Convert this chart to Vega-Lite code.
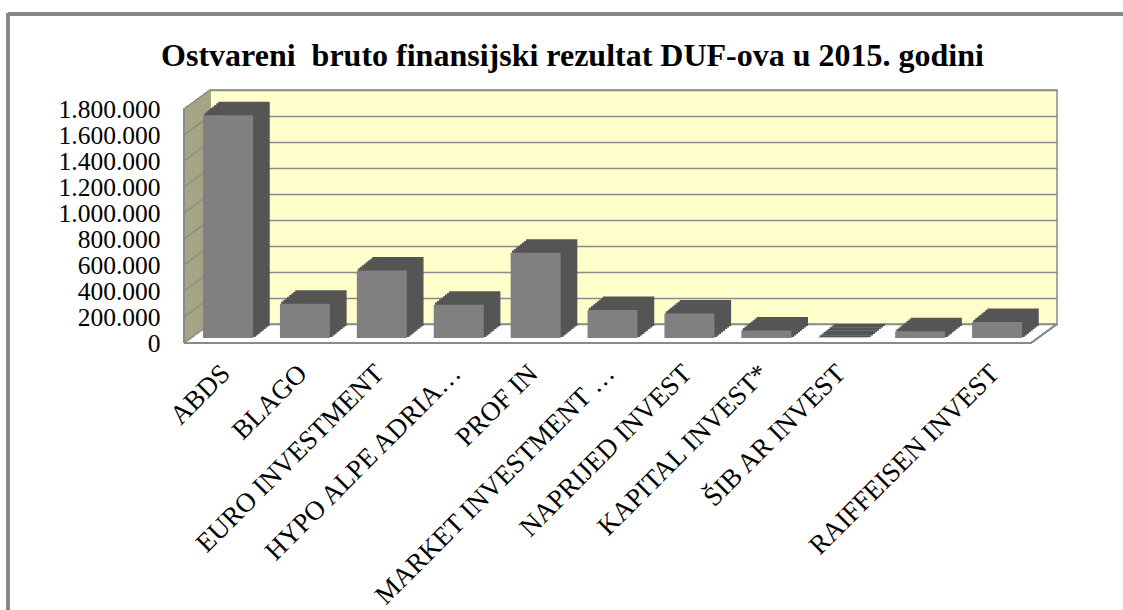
{
  "$schema": "https://vega.github.io/schema/vega-lite/v6.json",
  "autosize": {"type": "none"},
  "padding": {"left": 210, "top": 90, "right": 66, "bottom": 286},
  "width": 847,
  "height": 234,
  "background": "white",
  "title": {
    "text": "Ostvareni\u00a0 bruto finansijski rezultat DUF-ova u 2015. godini",
    "font": "Liberation Serif",
    "fontSize": 32,
    "fontWeight": "bold",
    "color": "black",
    "anchor": "middle",
    "frame": "group",
    "dx": -61,
    "offset": -61
  },
  "config": {
    "view": {"fill": "#FFFFCC", "stroke": "#8a8a8a", "strokeWidth": 1.5},
    "locale": {"number": {"decimal": ",", "thousands": ".", "grouping": [3], "currency": ["", "€"]}}
  },
  "datasets": {
    "bars": [
      {"name": "ABDS", "value": 1714000},
      {"name": "BLAGO", "value": 263000},
      {"name": "EURO INVESTMENT", "value": 519000},
      {"name": "HYPO ALPE ADRIA…", "value": 255000},
      {"name": "PROF IN", "value": 655000},
      {"name": "MARKET INVESTMENT …", "value": 215000},
      {"name": "NAPRIJED INVEST", "value": 188000},
      {"name": "KAPITAL INVEST*", "value": 58000},
      {"name": "ŠIB AR INVEST", "value": 3000},
      {"name": " ", "value": 51000},
      {"name": "RAIFFEISEN INVEST", "value": 123000}
    ],
    "grid": [
      {"v": 0}, {"v": 200000}, {"v": 400000}, {"v": 600000}, {"v": 800000},
      {"v": 1000000}, {"v": 1200000}, {"v": 1400000}, {"v": 1600000}, {"v": 1800000}
    ]
  },
  "resolve": {"scale": {"x": "independent"}},
  "layer": [
    {
      "data": {"name": "grid"},
      "layer": [
        {"mark": {"type": "rule", "color": "#A5A589", "strokeWidth": 2.3, "xOffset": -1, "yOffset": 0.73, "y2Offset": 0.73},
         "encoding": {"x": {"datum": 0, "type": "quantitative", "scale": {"domain": [0, 1]}, "axis": null}, "y": {"datum": 0, "type": "quantitative"}, "y2": {"datum": 1800000}}},
        {"mark": {"type": "rule", "color": "#A5A589", "strokeWidth": 2.3, "xOffset": -3, "yOffset": 2.19, "y2Offset": 2.19},
         "encoding": {"x": {"datum": 0, "type": "quantitative", "scale": {"domain": [0, 1]}, "axis": null}, "y": {"datum": 0, "type": "quantitative"}, "y2": {"datum": 1800000}}},
        {"mark": {"type": "rule", "color": "#A5A589", "strokeWidth": 2.3, "xOffset": -5, "yOffset": 3.65, "y2Offset": 3.65},
         "encoding": {"x": {"datum": 0, "type": "quantitative", "scale": {"domain": [0, 1]}, "axis": null}, "y": {"datum": 0, "type": "quantitative"}, "y2": {"datum": 1800000}}},
        {"mark": {"type": "rule", "color": "#A5A589", "strokeWidth": 2.3, "xOffset": -7, "yOffset": 5.11, "y2Offset": 5.11},
         "encoding": {"x": {"datum": 0, "type": "quantitative", "scale": {"domain": [0, 1]}, "axis": null}, "y": {"datum": 0, "type": "quantitative"}, "y2": {"datum": 1800000}}},
        {"mark": {"type": "rule", "color": "#A5A589", "strokeWidth": 2.3, "xOffset": -9, "yOffset": 6.57, "y2Offset": 6.57},
         "encoding": {"x": {"datum": 0, "type": "quantitative", "scale": {"domain": [0, 1]}, "axis": null}, "y": {"datum": 0, "type": "quantitative"}, "y2": {"datum": 1800000}}},
        {"mark": {"type": "rule", "color": "#A5A589", "strokeWidth": 2.3, "xOffset": -11, "yOffset": 8.03, "y2Offset": 8.03},
         "encoding": {"x": {"datum": 0, "type": "quantitative", "scale": {"domain": [0, 1]}, "axis": null}, "y": {"datum": 0, "type": "quantitative"}, "y2": {"datum": 1800000}}},
        {"mark": {"type": "rule", "color": "#A5A589", "strokeWidth": 2.3, "xOffset": -13, "yOffset": 9.49, "y2Offset": 9.49},
         "encoding": {"x": {"datum": 0, "type": "quantitative", "scale": {"domain": [0, 1]}, "axis": null}, "y": {"datum": 0, "type": "quantitative"}, "y2": {"datum": 1800000}}},
        {"mark": {"type": "rule", "color": "#A5A589", "strokeWidth": 2.3, "xOffset": -15, "yOffset": 10.95, "y2Offset": 10.95},
         "encoding": {"x": {"datum": 0, "type": "quantitative", "scale": {"domain": [0, 1]}, "axis": null}, "y": {"datum": 0, "type": "quantitative"}, "y2": {"datum": 1800000}}},
        {"mark": {"type": "rule", "color": "#A5A589", "strokeWidth": 2.3, "xOffset": -17, "yOffset": 12.41, "y2Offset": 12.41},
         "encoding": {"x": {"datum": 0, "type": "quantitative", "scale": {"domain": [0, 1]}, "axis": null}, "y": {"datum": 0, "type": "quantitative"}, "y2": {"datum": 1800000}}},
        {"mark": {"type": "rule", "color": "#A5A589", "strokeWidth": 2.3, "xOffset": -19, "yOffset": 13.87, "y2Offset": 13.87},
         "encoding": {"x": {"datum": 0, "type": "quantitative", "scale": {"domain": [0, 1]}, "axis": null}, "y": {"datum": 0, "type": "quantitative"}, "y2": {"datum": 1800000}}},
        {"mark": {"type": "rule", "color": "#A5A589", "strokeWidth": 2.3, "xOffset": -21, "yOffset": 15.33, "y2Offset": 15.33},
         "encoding": {"x": {"datum": 0, "type": "quantitative", "scale": {"domain": [0, 1]}, "axis": null}, "y": {"datum": 0, "type": "quantitative"}, "y2": {"datum": 1800000}}},
        {"mark": {"type": "rule", "color": "#A5A589", "strokeWidth": 2.3, "xOffset": -23, "yOffset": 16.79, "y2Offset": 16.79},
         "encoding": {"x": {"datum": 0, "type": "quantitative", "scale": {"domain": [0, 1]}, "axis": null}, "y": {"datum": 0, "type": "quantitative"}, "y2": {"datum": 1800000}}},
        {"mark": {"type": "rule", "color": "#A5A589", "strokeWidth": 2.3, "xOffset": -25, "yOffset": 18.25, "y2Offset": 18.25},
         "encoding": {"x": {"datum": 0, "type": "quantitative", "scale": {"domain": [0, 1]}, "axis": null}, "y": {"datum": 0, "type": "quantitative"}, "y2": {"datum": 1800000}}},
        {"mark": {"type": "rule", "color": "#8a8a8a", "strokeWidth": 1.5, "x2Offset": -26, "y2Offset": 19},
         "encoding": {"x": {"datum": 0, "type": "quantitative", "scale": {"domain": [0, 1]}, "axis": null}, "x2": {"datum": 0}, "y": {"field": "v", "type": "quantitative"}, "y2": {"field": "v"}}},
        {"mark": {"type": "rule", "color": "#8a8a8a", "strokeWidth": 1.5, "xOffset": -26, "yOffset": 19, "y2Offset": 19},
         "encoding": {"x": {"datum": 0, "type": "quantitative", "scale": {"domain": [0, 1]}, "axis": null}, "y": {"datum": 0, "type": "quantitative"}, "y2": {"datum": 1800000}}},
        {"mark": {"type": "rule", "color": "#8a8a8a", "strokeWidth": 1.5, "xOffset": -26, "x2Offset": -26, "yOffset": 19, "y2Offset": 19},
         "encoding": {"x": {"datum": 0, "type": "quantitative", "scale": {"domain": [0, 1]}, "axis": null}, "x2": {"datum": 1}, "y": {"datum": 0, "type": "quantitative"}, "y2": {"datum": 0}}},
        {"mark": {"type": "rule", "color": "#8a8a8a", "strokeWidth": 1.5, "x2Offset": -26, "y2Offset": 19},
         "encoding": {"x": {"datum": 1, "type": "quantitative", "scale": {"domain": [0, 1]}, "axis": null}, "x2": {"datum": 1}, "y": {"datum": 0, "type": "quantitative"}, "y2": {"datum": 0}}},
        {"mark": {"type": "rule", "color": "#858585", "strokeWidth": 2.5, "xOffset": -202, "x2Offset": 66, "yOffset": -76, "y2Offset": -76},
         "encoding": {"x": {"datum": 0, "type": "quantitative", "scale": {"domain": [0, 1]}, "axis": null}, "x2": {"datum": 1}, "y": {"datum": 1800000, "type": "quantitative"}, "y2": {"datum": 1800000}}},
        {"mark": {"type": "rule", "color": "#858585", "strokeWidth": 2.5, "xOffset": -202, "yOffset": -77, "y2Offset": 286},
         "encoding": {"x": {"datum": 0, "type": "quantitative", "scale": {"domain": [0, 1]}, "axis": null}, "y": {"datum": 1800000, "type": "quantitative"}, "y2": {"datum": 0}}}
      ]
    },
    {
      "data": {"name": "bars"},
      "encoding": {
        "x": {
          "field": "name", "type": "nominal", "sort": null,
          "scale": {"paddingInner": 0.35, "paddingOuter": 0.182, "align": 0.43},
          "axis": {
            "title": null, "domain": false, "ticks": false, "grid": false,
            "labelAngle": -45, "labelAlign": "right", "labelBaseline": "middle",
            "labelOffset": -21, "labelPadding": 45, "labelLimit": 500, "labelOverlap": false,
            "labelFont": "Liberation Serif", "labelFontSize": 27, "labelColor": "black"
          }
        },
        "y": {
          "field": "value", "type": "quantitative",
          "scale": {"domain": [0, 1800000], "nice": false},
          "axis": {
            "title": null, "domain": false, "ticks": false,
            "values": [0, 200000, 400000, 600000, 800000, 1000000, 1200000, 1400000, 1600000, 1800000],
            "tickCount": 10, "labelOverlap": false,
            "format": ",d", "labelPadding": 50, "labelOffset": 19.5,
            "labelFont": "Liberation Serif", "labelFontSize": 25.5, "labelColor": "black",
            "grid": true, "gridColor": "#8a8a8a", "gridWidth": 1.5
          }
        }
      },
      "layer": [
        {"mark": {"type": "bar", "color": "#555555", "stroke": "#555555", "strokeWidth": 1.4, "xOffset": -17, "yOffset": 12.4, "y2Offset": 12.4}},
        {"mark": {"type": "bar", "color": "#555555", "stroke": "#555555", "strokeWidth": 1.4, "xOffset": -15, "yOffset": 10.8, "y2Offset": 10.8}},
        {"mark": {"type": "bar", "color": "#555555", "stroke": "#555555", "strokeWidth": 1.4, "xOffset": -13, "yOffset": 9.2, "y2Offset": 9.2}},
        {"mark": {"type": "bar", "color": "#555555", "stroke": "#555555", "strokeWidth": 1.4, "xOffset": -11, "yOffset": 7.6, "y2Offset": 7.6}},
        {"mark": {"type": "bar", "color": "#555555", "stroke": "#555555", "strokeWidth": 1.4, "xOffset": -9, "yOffset": 6.0, "y2Offset": 6.0}},
        {"mark": {"type": "bar", "color": "#555555", "stroke": "#555555", "strokeWidth": 1.4, "xOffset": -7, "yOffset": 4.4, "y2Offset": 4.4}},
        {"mark": {"type": "bar", "color": "#555555", "stroke": "#555555", "strokeWidth": 1.4, "xOffset": -5, "yOffset": 2.8, "y2Offset": 2.8}},
        {"mark": {"type": "bar", "color": "#555555", "stroke": "#555555", "strokeWidth": 1.4, "xOffset": -3, "yOffset": 1.2, "y2Offset": 1.2}},
        {"mark": {"type": "bar", "color": "#808080", "xOffset": -19, "yOffset": 14, "y2Offset": 14}}
      ]
    }
  ]
}
